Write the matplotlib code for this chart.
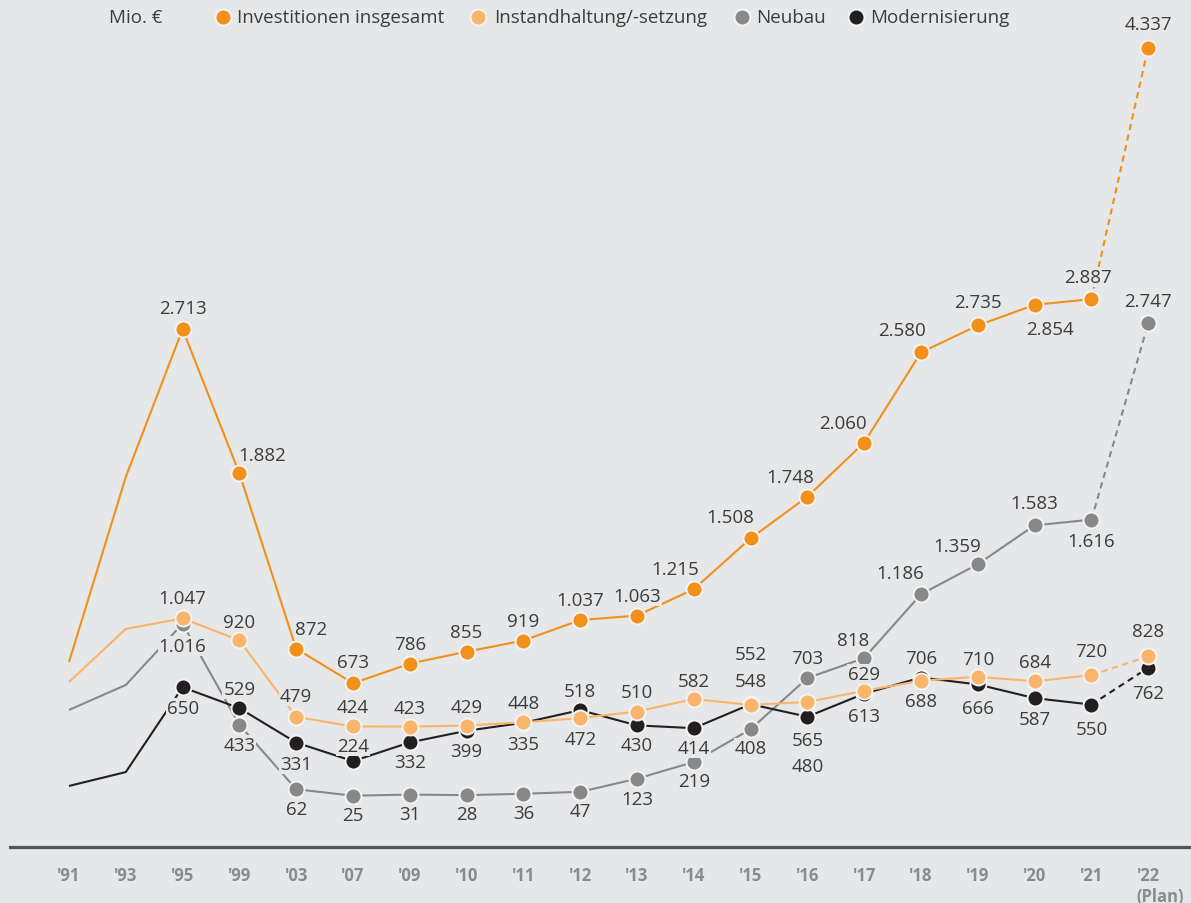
import matplotlib
matplotlib.use("Agg")
import matplotlib.pyplot as plt
from matplotlib import font_manager
from matplotlib.lines import Line2D

# ---------------- data ----------------
years = ["'91", "'93", "'95", "'99", "'03", "'07", "'09", "'10", "'11", "'12",
         "'13", "'14", "'15", "'16", "'17", "'18", "'19", "'20", "'21", "'22"]
plan_note = "(Plan)"
unit_label = "Mio. €"

series_names = ["Investitionen insgesamt", "Instandhaltung/-setzung", "Neubau", "Modernisierung"]

invest = [795, 1862, 2713, 1882, 872, 673, 786, 855, 919, 1037,
          1063, 1215, 1508, 1748, 2060, 2580, 2735, 2854, 2887, 4337]
instand = [680, 986, 1047, 920, 479, 424, 423, 429, 448, 472,
           510, 582, 548, 565, 629, 688, 710, 684, 720, 828]
neubau = [519, 663, 1016, 433, 62, 25, 31, 28, 36, 47,
          123, 219, 408, 703, 818, 1186, 1359, 1583, 1616, 2747]
modern = [81, 161, 650, 529, 331, 224, 332, 399, 445, 518,
          430, 414, 552, 480, 613, 706, 666, 587, 550, 762]
# printed value differs from drawn position in the original for '11
modern_printed = {8: 335}

# ---------------- style ----------------
BG = "#e6e7e8"
TXT = "#3c3c3c"
colors = ["#f39019", "#fbb56b", "#87888a", "#231f20"]
first_marked = 2  # '91 and '93 have no markers / labels

names = {f.name for f in font_manager.fontManager.ttflist}
main_font = "Open Sans" if "Open Sans" in names else "DejaVu Sans"
plt.rcParams["font.family"] = [main_font, "DejaVu Sans"]

# label offsets in pixels (dx, dy; dy positive = down), for indices 2..19
off_invest = [(0, -21), (23, -18), (15, -20), (0, -21), (0, -20), (0, -20), (0, -20), (0, -20),
              (0, -20), (-19, -20), (-20, -21), (-17, -20), (-21, -20), (-19, -22), (0, -23),
              (15, 24), (-3, -22), (0, -24)]
off_instand = [(0, -20), (0, -18), (0, -21), (0, -19), (0, -19), (0, -19), (0, -19), (0, 21),
               (0, -20), (0, -18), (0, -24), (0, 38), (0, -17), (0, 20), (0, -18), (0, -19),
               (0, -24), (0, -25)]
off_neubau = [(0, 22), (0, 20), (0, 20), (0, 19), (0, 19), (0, 19), (0, 19), (0, 19),
              (0, 20), (0, 19), (0, 19), (0, -20), (-11, -18), (-21, -21), (-21, -18), (0, -22),
              (0, 21), (0, -22)]
off_modern = [(0, 21), (0, -19), (0, 21), (0, -15), (0, 20), (0, 20), (0, 21), (0, -19),
              (0, 20), (0, 20), (0, -50), (0, 49), (0, 22), (0, -20), (0, 24), (0, 21),
              (0, 24), (0, 25)]

W, H = 1191, 904
fig = plt.figure(figsize=(W / 100, H / 100), dpi=100, facecolor=BG)
axis_y_px = 848
ax = fig.add_axes([10 / W, (H - axis_y_px) / H, (W - 10) / W, axis_y_px / H])
ax.set_facecolor(BG)

px_per_unit = 0.1735
zero_px = 801
ax.set_ylim(-(axis_y_px - zero_px) / px_per_unit, zero_px / px_per_unit)
x0_px, step_px = 69, 56.8
ax.set_xlim(-(x0_px - 10) / step_px, 19 + (W - (x0_px + 19 * step_px)) / step_px)

for s in ["top", "right", "left"]:
    ax.spines[s].set_visible(False)
ax.spines["bottom"].set_color("#555555")
ax.spines["bottom"].set_linewidth(2.3)
ax.set_yticks([])
ax.set_xticks([])

x = list(range(len(years)))
all_series = [invest, instand, neubau, modern]
offsets = [off_invest, off_instand, off_neubau, off_modern]
zorders = [5, 4, 2, 3]
printed = [{}, {}, {}, modern_printed]

def fmt(v):
    return f"{v:,}".replace(",", ".")

for vals, col, zo, offs, pr in zip(all_series, colors, zorders, offsets, printed):
    n = len(vals)
    ax.plot(x[:n - 1], vals[:n - 1], color=col, lw=1.5, zorder=zo, solid_capstyle="butt")
    ax.plot(x[n - 2:], vals[n - 2:], color=col, lw=1.5, zorder=zo, dashes=(3, 2.2))
    ax.plot(x[first_marked:], vals[first_marked:], ls="none", marker="o", ms=11.5,
            mfc=col, mec="#f4f4f4", mew=1.4, zorder=zo + 0.5)
    for i in range(first_marked, n):
        dx, dy = offs[i - first_marked]
        ax.annotate(fmt(pr.get(i, vals[i])), (x[i], vals[i]), xytext=(dx, -dy),
                    textcoords="offset pixels", ha="center", va="center",
                    fontsize=13.5, color=TXT, zorder=10,
                    bbox=dict(boxstyle="square,pad=0.05", fc=BG, ec="none"))

# x tick labels
for i, lab in enumerate(years):
    ax.annotate(lab, (x[i], 0), xycoords=("data", "axes fraction"), xytext=(0, -28),
                textcoords="offset pixels", ha="center", va="center",
                fontsize=12, fontweight="bold", color="#8a8b8c")
ax.annotate(plan_note, (x[-1], 0), xycoords=("data", "axes fraction"), xytext=(12, -49),
            textcoords="offset pixels", ha="center", va="center",
            fontsize=12, fontweight="bold", color="#8a8b8c")

# legend
ly = 1 - 18 / H
fig.text(109 / W, ly, unit_label, ha="left", va="center", fontsize=13.5, color=TXT)
mx = [223, 478, 742, 856]
tx = [237, 494, 756, 870]
for name, col, m, t in zip(series_names, colors, mx, tx):
    fig.add_artist(Line2D([m / W], [ly], marker="o", ms=11.5, mfc=col, mec="#f4f4f4",
                          mew=1.4, ls="none", transform=fig.transFigure))
    fig.text(t / W, ly, name, ha="left", va="center", fontsize=13.5, color=TXT)

fig.savefig("out.png", dpi=100, facecolor=BG)
